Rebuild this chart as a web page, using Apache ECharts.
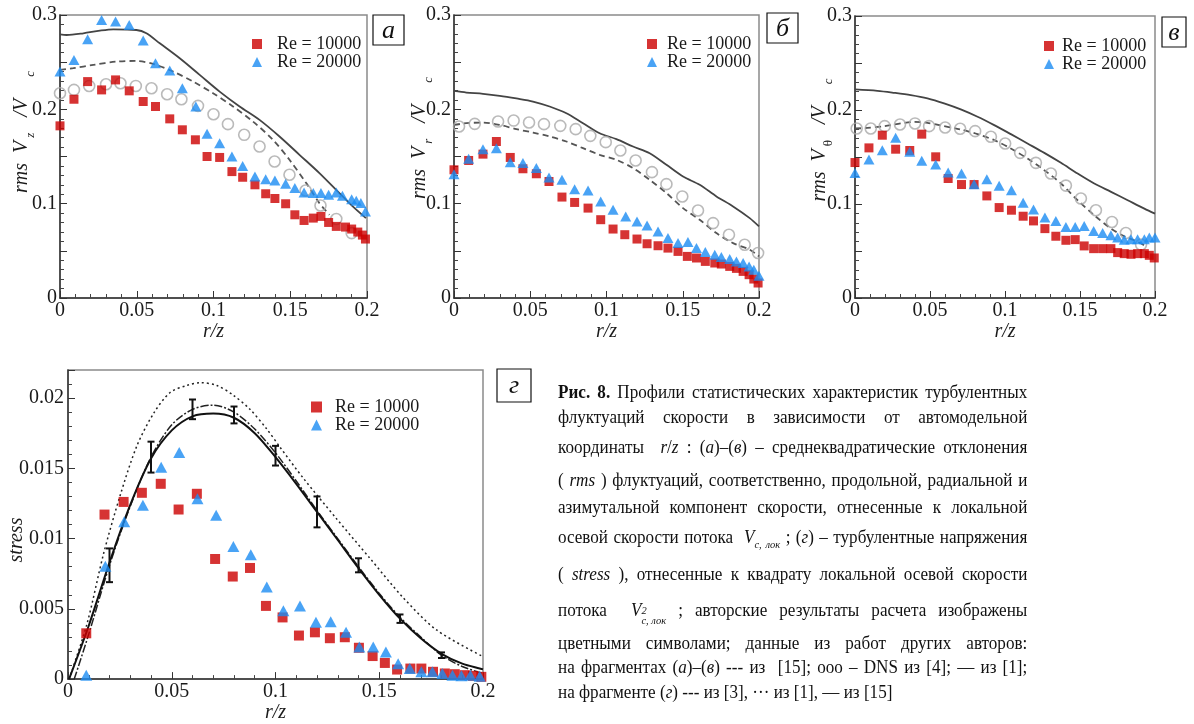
<!DOCTYPE html>
<html>
<head>
<meta charset="utf-8">
<script src="https://cdn.jsdelivr.net/npm/echarts@6/dist/echarts.min.js"></script>
<style>
  html, body { margin: 0; padding: 0; background: #fff; }
  #wrap { position: relative; width: 1194px; height: 724px; overflow: hidden; }
  #chart { position: absolute; left: 0; top: 0; width: 1194px; height: 724px; }
  .cap { position: absolute; left: 558px; width: 494px; height: 24px; line-height: 24px;
         font-family: 'Liberation Serif', serif; font-size: 18px; color: #111;
         white-space: nowrap; text-align: justify; text-align-last: justify;
         transform: scaleX(0.95); transform-origin: 0 0; }
  .cap.last { text-align: left; text-align-last: left; }
  .ss { display: inline-block; vertical-align: -8px; line-height: 10px; font-size: 11px; font-style: italic; text-align: left; }
  .ss span { display: block; }
  sub.c { font-size: 11px; font-style: italic; vertical-align: -5px; line-height: 0; }
</style>
</head>
<body>
<div id="wrap">
  <div id="chart"></div>
  <div class="cap" style="top:380px"><b>Рис. 8.</b> Профили статистических характеристик турбулентных</div>
  <div class="cap" style="top:405px">флуктуаций скорости в зависимости от автомодельной</div>
  <div class="cap" style="top:435px">координаты &nbsp;<i>r</i>/<i>z</i> : (<i>а</i>)–(<i>в</i>) – среднеквадратические отклонения</div>
  <div class="cap" style="top:468px">( <i>rms</i> ) флуктуаций, соответственно, продольной, радиальной и</div>
  <div class="cap" style="top:495px">азимутальной компонент скорости, отнесенные к локальной</div>
  <div class="cap" style="top:525px">осевой скорости потока &nbsp;<i>V</i><sub class="c">c, лок</sub> ; (<i>г</i>) – турбулентные напряжения</div>
  <div class="cap" style="top:562px">( <i>stress</i> ), отнесенные к квадрату локальной осевой скорости</div>
  <div class="cap" style="top:598px">потока &nbsp;<i>V</i><span class="ss"><span>2</span><span>c, лок</span></span> ; авторские результаты расчета изображены</div>
  <div class="cap" style="top:631px">цветными символами; данные из работ других авторов:</div>
  <div class="cap" style="top:655px">на фрагментах (<i>а</i>)–(<i>в</i>) --- из &nbsp;[15]; ооо – DNS из [4]; — из [1];</div>
  <div class="cap last" style="top:680px">на фрагменте (<i>г</i>) --- из [3], ··· из [1], — из [15]</div>
</div>
<script>
// ---------- DATA ----------
// Panel а : rms Vz / Vc
const aRe10 = [[0,0.1825],[0.0091,0.2107],[0.018,0.2294],[0.0271,0.2206],[0.0362,0.2312],[0.0451,0.2196],[0.0542,0.2083],[0.0622,0.2030],[0.0715,0.1899],[0.0797,0.1783],[0.0882,0.1677],[0.0958,0.150],[0.104,0.149],[0.112,0.134],[0.119,0.128],[0.127,0.120],[0.134,0.1105],[0.140,0.1055],[0.147,0.0999],[0.153,0.0882],[0.159,0.0822],[0.165,0.0847],[0.170,0.0865],[0.175,0.0801],[0.180,0.0759],[0.186,0.0752],[0.190,0.0731],[0.194,0.0699],[0.197,0.0667],[0.199,0.0625]];
const aRe20 = [[0,0.240],[0.0091,0.2524],[0.018,0.2743],[0.0271,0.2947],[0.0362,0.293],[0.0451,0.2894],[0.0542,0.2729],[0.0622,0.2489],[0.0715,0.2411],[0.0797,0.2224],[0.0885,0.203],[0.0958,0.174],[0.104,0.164],[0.112,0.150],[0.119,0.140],[0.127,0.1288],[0.134,0.126],[0.140,0.1246],[0.147,0.121],[0.153,0.1165],[0.159,0.1119],[0.165,0.1112],[0.170,0.1112],[0.175,0.1094],[0.180,0.1119],[0.184,0.1084],[0.190,0.1048],[0.193,0.1031],[0.196,0.1006],[0.199,0.0918]];
const aDNS = [[0,0.217],[0.0091,0.2206],[0.019,0.2248],[0.030,0.2266],[0.0394,0.2277],[0.0494,0.2248],[0.0596,0.2224],[0.0698,0.216],[0.0791,0.2107],[0.0899,0.2037],[0.100,0.1948],[0.1094,0.1843],[0.120,0.173],[0.130,0.1606],[0.1398,0.1447],[0.1495,0.1306],[0.160,0.114],[0.1697,0.0981],[0.180,0.0837],[0.190,0.0688]];
const aRef1 = [[0,0.2795],[0.0043,0.2788],[0.0152,0.2806],[0.026,0.2834],[0.0347,0.2848],[0.0498,0.2841],[0.0563,0.2806],[0.065,0.27],[0.078,0.2541],[0.091,0.2365],[0.104,0.2188],[0.117,0.203],[0.130,0.1888],[0.143,0.1712],[0.156,0.1518],[0.169,0.1324],[0.182,0.1112],[0.1907,0.0971],[0.1993,0.0847]];
const aRef15 = [[0,0.2418],[0.0087,0.2436],[0.0217,0.2471],[0.0368,0.2506],[0.0498,0.2513],[0.0607,0.2481],[0.0737,0.24],[0.0867,0.2294],[0.0997,0.2171],[0.1127,0.203],[0.1257,0.1871],[0.1387,0.1677],[0.1495,0.1465],[0.1604,0.1218],[0.169,0.1006],[0.1755,0.0882]];

// Panel б : rms Vr / Vc
const bRe10 = [[0,0.1359],[0.0096,0.1458],[0.019,0.1525],[0.0278,0.1659],[0.0369,0.149],[0.0452,0.137],[0.054,0.1317],[0.0623,0.1235],[0.0708,0.107],[0.0791,0.1013],[0.0879,0.0953],[0.0962,0.083],[0.1043,0.0731],[0.112,0.0671],[0.12,0.0625],[0.1266,0.0575],[0.1338,0.0554],[0.1403,0.0529],[0.1469,0.0494],[0.153,0.0441],[0.159,0.0424],[0.1648,0.0388],[0.171,0.0371],[0.1753,0.036],[0.1808,0.0335],[0.1852,0.0314],[0.1896,0.0282],[0.1935,0.0247],[0.1966,0.0201],[0.1994,0.0159]];
const bRe20 = [[0,0.1313],[0.0096,0.1475],[0.019,0.1578],[0.0278,0.1588],[0.0369,0.144],[0.0452,0.143],[0.054,0.1377],[0.0623,0.1278],[0.0708,0.1253],[0.0791,0.1154],[0.0879,0.114],[0.0962,0.1024],[0.1043,0.0935],[0.1126,0.0865],[0.12,0.0812],[0.1266,0.0769],[0.1338,0.0706],[0.1403,0.0635],[0.1469,0.0582],[0.1534,0.0593],[0.159,0.0529],[0.1648,0.0487],[0.171,0.0459],[0.1753,0.0434],[0.1808,0.0413],[0.1852,0.0388],[0.1896,0.0371],[0.1935,0.0335],[0.1966,0.030],[0.2,0.0237]];
const bDNS = [[0.0033,0.1818],[0.0136,0.1846],[0.0289,0.1871],[0.0391,0.1881],[0.0492,0.186],[0.059,0.1843],[0.0697,0.1825],[0.0798,0.179],[0.0894,0.1719],[0.0995,0.1652],[0.1091,0.1564],[0.1191,0.1458],[0.1298,0.1334],[0.1393,0.1207],[0.1497,0.1076],[0.16,0.0928],[0.1699,0.0794],[0.1803,0.0671],[0.1906,0.0565],[0.1994,0.0477]];
const bRef1 = [[0,0.2195],[0.0081,0.2178],[0.019,0.2164],[0.03,0.2143],[0.0409,0.2115],[0.0518,0.2083],[0.0627,0.2030],[0.0737,0.1959],[0.0846,0.1853],[0.0955,0.1747],[0.1065,0.1684],[0.1174,0.1606],[0.1283,0.1535],[0.1393,0.1412],[0.1502,0.1288],[0.1611,0.12],[0.1721,0.1077],[0.183,0.0971],[0.1939,0.0847],[0.2,0.0759]];
const bRef15 = [[0,0.1835],[0.0081,0.1853],[0.019,0.186],[0.03,0.1835],[0.0409,0.179],[0.0518,0.1754],[0.0627,0.1712],[0.0737,0.1659],[0.0846,0.1588],[0.0955,0.1518],[0.1065,0.1465],[0.1174,0.1377],[0.1283,0.1253],[0.1393,0.1112],[0.1502,0.0953],[0.1611,0.0829],[0.1721,0.0688],[0.183,0.0582],[0.1939,0.0512],[0.2,0.0441]];

// Panel в : rms Vθ / Vc
const cRe10 = [[0,0.1441],[0.0093,0.1597],[0.0182,0.1732],[0.0271,0.1583],[0.0365,0.1569],[0.0445,0.1743],[0.0538,0.1502],[0.0621,0.1271],[0.071,0.1207],[0.0794,0.1207],[0.0879,0.1086],[0.0961,0.0962],[0.1043,0.0934],[0.1121,0.087],[0.119,0.082],[0.1266,0.0738],[0.1339,0.0657],[0.1406,0.0614],[0.1468,0.0621],[0.1528,0.0554],[0.1591,0.0525],[0.1651,0.0525],[0.1706,0.0525],[0.1751,0.0483],[0.1795,0.0472],[0.184,0.0465],[0.1884,0.0472],[0.1929,0.0472],[0.1962,0.0454],[0.1995,0.0426]];
const cRe20 = [[0,0.1331],[0.0093,0.1473],[0.0182,0.1573],[0.0271,0.1704],[0.0365,0.1555],[0.0445,0.1459],[0.0538,0.142],[0.0621,0.1335],[0.071,0.1324],[0.0794,0.121],[0.0879,0.1264],[0.0961,0.1193],[0.1043,0.1147],[0.1121,0.1012],[0.119,0.0941],[0.1266,0.0856],[0.1339,0.082],[0.1406,0.0756],[0.1468,0.0756],[0.1528,0.0767],[0.1591,0.0714],[0.1651,0.0692],[0.1706,0.0667],[0.1751,0.0643],[0.1795,0.0621],[0.184,0.0625],[0.1884,0.0625],[0.1929,0.0625],[0.1962,0.0643],[0.2,0.0643]];
const cDNS = [[0.0011,0.1803],[0.0105,0.1803],[0.0198,0.1828],[0.03,0.1846],[0.04,0.1857],[0.0494,0.1828],[0.0601,0.1814],[0.0701,0.18],[0.0801,0.1775],[0.0906,0.1715],[0.1001,0.1644],[0.1101,0.1544],[0.1206,0.1438],[0.1306,0.1324],[0.1406,0.1196],[0.1506,0.1058],[0.1606,0.0934],[0.1713,0.0809],[0.1806,0.0692],[0.1907,0.0568]];
const cRef1 = [[0,0.2219],[0.0149,0.2204],[0.026,0.2183],[0.0372,0.2158],[0.0483,0.2123],[0.0594,0.207],[0.0705,0.2006],[0.0817,0.1928],[0.0928,0.1839],[0.1039,0.1743],[0.115,0.1644],[0.1262,0.1544],[0.1373,0.1438],[0.1484,0.1324],[0.1595,0.1218],[0.1707,0.1129],[0.1818,0.104],[0.1929,0.0951],[0.2,0.0898]];
const cRef15 = [[0,0.1803],[0.0082,0.181],[0.0194,0.1828],[0.0305,0.1857],[0.0394,0.1874],[0.0483,0.1864],[0.0594,0.1828],[0.0705,0.1793],[0.0817,0.1743],[0.0928,0.1679],[0.1039,0.159],[0.115,0.1484],[0.1262,0.136],[0.1373,0.1218],[0.1484,0.104],[0.1595,0.088],[0.1707,0.0738],[0.1795,0.0657],[0.1862,0.0614],[0.1929,0.0561]];

// Panel г : stress
const dRe10 = [[0.0088,0.00326],[0.0176,0.01171],[0.0268,0.01261],[0.0356,0.01326],[0.0447,0.0139],[0.0533,0.01207],[0.0621,0.01319],[0.0709,0.00855],[0.0794,0.0073],[0.0877,0.00791],[0.0954,0.00521],[0.1034,0.00439],[0.1113,0.0031],[0.119,0.00333],[0.1262,0.00291],[0.1334,0.00298],[0.1402,0.00223],[0.1468,0.00164],[0.1527,0.00115],[0.1586,0.00068],[0.165,0.00075],[0.1703,0.00075],[0.1759,0.00052],[0.1816,0.0004],[0.1864,0.00035],[0.1912,0.00028],[0.1952,0.00023],[0.1992,0.00016]];
const dRe20 = [[0.0088,0.00028],[0.018,0.00803],[0.0271,0.0112],[0.0361,0.01237],[0.0449,0.01507],[0.0536,0.01613],[0.0624,0.01284],[0.0714,0.01167],[0.0797,0.00944],[0.0881,0.00885],[0.0958,0.00655],[0.1038,0.00486],[0.1118,0.00521],[0.1195,0.00404],[0.1266,0.00408],[0.134,0.00333],[0.1404,0.00228],[0.1471,0.00228],[0.1532,0.00192],[0.1591,0.0011],[0.1647,0.00075],[0.1703,0.00052],[0.1756,0.00052],[0.1804,0.0004],[0.1853,0.00028],[0.1896,0.00023],[0.1939,0.00028],[0.1984,0.00021]];
const dRef1 = [[0.0005,0],[0.0091,0.0039],[0.0171,0.0089],[0.0252,0.0131],[0.0332,0.0166],[0.0412,0.0189],[0.0492,0.0204],[0.0573,0.0209],[0.0637,0.0211],[0.0717,0.0209],[0.0797,0.0202],[0.0877,0.0192],[0.0958,0.0178],[0.1022,0.0165],[0.1134,0.0143],[0.1295,0.0114],[0.1455,0.0086],[0.1615,0.0058],[0.1776,0.0035],[0.2,0.0016]];
const dRef15 = [[0.0005,0],[0.01,0.0038],[0.02,0.0083],[0.03,0.0124],[0.04,0.0157],[0.05,0.0177],[0.06,0.0187],[0.07,0.0189],[0.08,0.0186],[0.09,0.0175],[0.1,0.0158],[0.11,0.0139],[0.12,0.0119],[0.13,0.0099],[0.14,0.0079],[0.15,0.006],[0.16,0.0043],[0.17,0.0029],[0.18,0.0018],[0.19,0.0011],[0.2,0.0007]];
const dRef3 = [[0.003,0],[0.01,0.0032],[0.02,0.0081],[0.03,0.0123],[0.04,0.0158],[0.05,0.0181],[0.06,0.0192],[0.07,0.0195],[0.08,0.019],[0.09,0.0178],[0.1,0.0161],[0.11,0.0141],[0.12,0.012],[0.13,0.01],[0.14,0.008],[0.15,0.0061],[0.16,0.0044],[0.17,0.003],[0.18,0.0017],[0.19,0.0009],[0.2,0.0004]];
// error bars of [3]: x, centre, half-width
const dErrX = [0.02,0.04,0.06,0.08,0.1,0.12,0.14,0.16,0.18];
const dErrY = [0.0081,0.0158,0.0192,0.0188,0.0159,0.0119,0.0081,0.0043,0.0017];
const dErrH = [0.0012,0.0011,0.0007,0.0006,0.0007,0.0011,0.0005,0.0003,0.0002];

const legendNames = ['Re = 10000', 'Re = 20000'];
const panelLetters = ['а', 'б', 'в', 'г'];

// ---------- STYLE ----------
const FONT = 'Liberation Serif';
const RED = '#cc0000';
const BLUE = '#1c8cf2';
const INK = '#1a1a1a';

const gridsPx = [
  {left: 60, top: 15, width: 307, height: 283},
  {left: 454, top: 15, width: 305, height: 283},
  {left: 855, top: 16, width: 300, height: 282},
  {left: 68, top: 370, width: 415, height: 312}
];

function fmtX(v) { const r = Math.round(v * 100) / 100; return r === 0 ? '0' : String(r); }

function xAx(gi) {
  return {
    type: 'value', gridIndex: gi, min: 0, max: 0.2, interval: 0.05,
    name: 'r/z', nameLocation: 'middle', nameGap: 13,
    nameTextStyle: {fontFamily: FONT, fontStyle: 'italic', fontSize: 20, color: INK},
    axisLine: {onZero: false, lineStyle: {color: '#333', width: 1.5}},
    axisTick: {inside: true, length: 7, lineStyle: {color: '#333', width: 1}},
    minorTick: {show: true, splitNumber: 5, length: 4, lineStyle: {color: '#444', width: 1}},
    axisLabel: {fontFamily: FONT, fontSize: 20, color: INK, margin: 3, formatter: fmtX},
    splitLine: {show: false}, minorSplitLine: {show: false}
  };
}
function yAxTop(gi) {
  return {
    type: 'value', gridIndex: gi, min: 0, max: 0.3, interval: 0.05,
    axisLine: {onZero: false, lineStyle: {color: '#333', width: 1.5}},
    axisTick: {inside: true, length: 7, lineStyle: {color: '#333', width: 1}},
    minorTick: {show: true, splitNumber: 5, length: 4, lineStyle: {color: '#444', width: 1}},
    axisLabel: {fontFamily: FONT, fontSize: 20, color: INK, margin: 3,
      formatter: v => { const k = Math.round(v * 100); return k % 10 === 0 ? (k === 0 ? '0' : String(k / 100)) : ''; }},
    splitLine: {show: false}
  };
}
function yAxStress(gi) {
  return {
    type: 'value', gridIndex: gi, min: 0, max: 0.022, interval: 0.005,
    axisLine: {onZero: false, lineStyle: {color: '#333', width: 1.5}},
    axisTick: {inside: true, length: 7, lineStyle: {color: '#333', width: 1}},
    minorTick: {show: true, splitNumber: 5, length: 4, lineStyle: {color: '#444', width: 1}},
    axisLabel: {fontFamily: FONT, fontSize: 20, color: INK, margin: 4, showMaxLabel: false,
      formatter: v => { const k = Math.round(v * 1000); return k % 5 === 0 ? (k === 0 ? '0' : String(k / 1000)) : ''; }},
    splitLine: {show: false}
  };
}

function sq(gi, data, size) {
  return {type: 'scatter', name: legendNames[0], xAxisIndex: gi, yAxisIndex: gi, data, symbol: 'rect',
    symbolSize: size, itemStyle: {color: RED}, z: 6, silent: true};
}
function tri(gi, data, size) {
  return {type: 'scatter', name: legendNames[1], xAxisIndex: gi, yAxisIndex: gi, data, symbol: 'triangle',
    symbolSize: size, itemStyle: {color: BLUE}, z: 7, silent: true};
}
function circ(gi, data) {
  return {type: 'scatter', name: 'DNS', xAxisIndex: gi, yAxisIndex: gi, data, symbol: 'circle', symbolSize: 11,
    itemStyle: {color: 'rgba(255,255,255,0)', borderColor: '#a9a9a9', borderWidth: 1.6}, z: 4, silent: true};
}
function curve(gi, data, color, width, type, name) {
  return {type: 'line', name, xAxisIndex: gi, yAxisIndex: gi, data, showSymbol: false, symbol: 'none',
    smooth: 0.3, lineStyle: {color, width, type}, z: 3, silent: true};
}

function legendAt(left, top, pad, lh, isz) {
  return {left, top, orient: 'vertical', padding: 0, itemGap: 0, itemWidth: isz, itemHeight: isz,
    selectedMode: false,
    textStyle: {fontFamily: FONT, fontSize: 18, color: INK, lineHeight: lh, padding: [0, 0, 0, pad]},
    data: [{name: legendNames[0], icon: 'rect'}, {name: legendNames[1], icon: 'triangle'}]};
}

const R_I = {fontFamily: FONT, fontStyle: 'italic', fontSize: 20, lineHeight: 30, fill: INK, color: INK};
function yTitle(x, y, parts) {
  return {type: 'text', x, y, rotation: Math.PI / 2, silent: true,
    style: {text: parts, align: 'center', verticalAlign: 'middle', textAlign: 'center', textVerticalAlign: 'middle',
      rich: {
        i: R_I,
        v: Object.assign({}, R_I, {padding: [0, 0, 0, 10]}),
        g: Object.assign({}, R_I, {padding: [0, 0, 0, 16]}),
        s: {fontFamily: FONT, fontStyle: 'italic', fontSize: 13, lineHeight: 14, verticalAlign: 'bottom', padding: [0, 0, 0, 3], fill: INK, color: INK},
        t: {fontFamily: FONT, fontSize: 13, lineHeight: 14, verticalAlign: 'bottom', padding: [0, 0, 0, 3], fill: INK, color: INK},
        c: {fontFamily: FONT, fontStyle: 'italic', fontSize: 13, lineHeight: 14, verticalAlign: 'bottom', padding: [0, 0, 0, 22], fill: INK, color: INK}
      }}};
}
function letterBox(x, y, w, h, letter) {
  return {type: 'group', silent: true, children: [
    {type: 'rect', shape: {x, y, width: w, height: h}, style: {fill: '#fff', stroke: '#111', lineWidth: 1.2}},
    {type: 'text', x: x + w / 2, y: y + h / 2 + 1, style: {text: letter, fontFamily: FONT, fontStyle: 'italic', fontSize: 26,
      fill: '#111', align: 'center', verticalAlign: 'middle', textAlign: 'center', textVerticalAlign: 'middle'}}
  ]};
}

const errData = dErrX.map((x, i) => [x, dErrY[i] - dErrH[i], dErrY[i] + dErrH[i]]);

const option = {
  animation: false,
  backgroundColor: '#fff',
  grid: gridsPx.map(g => Object.assign({show: true, borderColor: '#8a8a8a', borderWidth: 1.5, containLabel: false}, g)),
  xAxis: [xAx(0), xAx(1), xAx(2), xAx(3)],
  yAxis: [yAxTop(0), yAxTop(1), yAxTop(2), yAxStress(3)],
  legend: [legendAt(252, 35, 10, 16, 10), legendAt(647, 35, 5, 16, 10), legendAt(1044, 37, 3, 16, 10), legendAt(311, 398, 8, 18, 11)],
  graphic: [
    yTitle(22, 132, '{i|rms}{v|V}{s|z}{g|/V}{c|c}'),
    yTitle(420, 138, '{i|rms}{v|V}{s|r}{g|/V}{c|c}'),
    yTitle(820, 140, '{i|rms}{v|V}{t|θ}{g|/V}{c|c}'),
    yTitle(17, 540, '{i|stress}'),
    letterBox(373, 15, 31, 30, panelLetters[0]),
    letterBox(767, 13, 31, 30, panelLetters[1]),
    letterBox(1162, 17, 24, 30, panelLetters[2]),
    letterBox(497, 369, 34, 33, panelLetters[3])
  ],
  series: [
    curve(0, aRef1, '#444', 1.8, 'solid', 'ref1'),
    curve(0, aRef15, '#555', 1.8, [6, 4], 'ref15'),
    circ(0, aDNS), sq(0, aRe10, 9), tri(0, aRe20, [11, 10]),

    curve(1, bRef1, '#444', 1.8, 'solid', 'ref1'),
    curve(1, bRef15, '#555', 1.8, [6, 4], 'ref15'),
    circ(1, bDNS), sq(1, bRe10, 9), tri(1, bRe20, [11, 10]),

    curve(2, cRef1, '#444', 1.8, 'solid', 'ref1'),
    curve(2, cRef15, '#555', 1.8, [6, 4], 'ref15'),
    circ(2, cDNS), sq(2, cRe10, 9), tri(2, cRe20, [11, 10]),

    curve(3, dRef1, '#222', 1.5, [2, 3], 'ref1'),
    curve(3, dRef3, '#222', 1.5, [8, 2, 2, 2], 'ref3'),
    curve(3, dRef15, '#111', 2, 'solid', 'ref15'),
    {type: 'custom', name: 'err', xAxisIndex: 3, yAxisIndex: 3, data: errData, silent: true, z: 5,
      encode: {x: 0, y: [1, 2]},
      renderItem: function (params, api) {
        const x = api.value(0);
        const lo = api.coord([x, api.value(1)]);
        const hi = api.coord([x, api.value(2)]);
        const w = 3.5;
        const st = {stroke: '#111', lineWidth: 2};
        return {type: 'group', children: [
          {type: 'line', shape: {x1: lo[0], y1: lo[1], x2: hi[0], y2: hi[1]}, style: st},
          {type: 'line', shape: {x1: lo[0] - w, y1: lo[1], x2: lo[0] + w, y2: lo[1]}, style: st},
          {type: 'line', shape: {x1: hi[0] - w, y1: hi[1], x2: hi[0] + w, y2: hi[1]}, style: st}
        ]};
      }},
    sq(3, dRe10, 10), tri(3, dRe20, [12, 11])
  ]
};

const chart = echarts.init(document.getElementById('chart'), null, {renderer: 'canvas'});
chart.setOption(option);
</script>
</body>
</html>
